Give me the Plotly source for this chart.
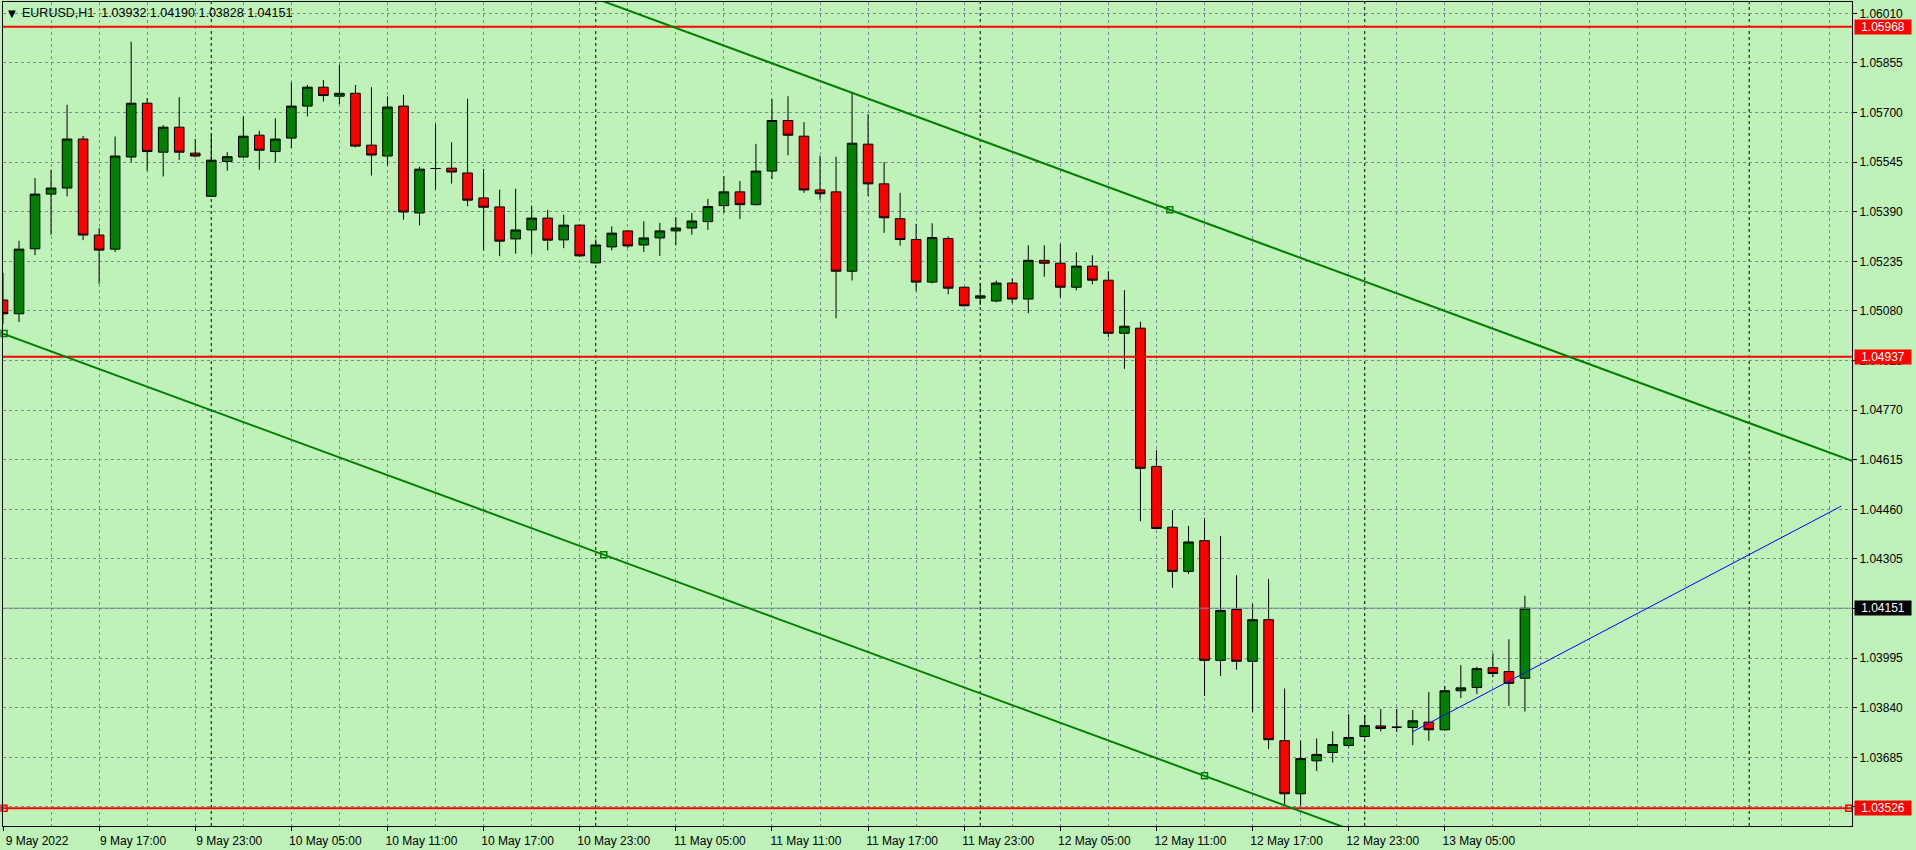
import pandas as pd
import plotly.graph_objects as go

# ---------------- data ----------------
symbol = "EURUSD,H1"
bar_start = "2022-05-09 11:00"

opens = [1.05114, 1.05071, 1.05274, 1.05445, 1.05464, 1.05617, 1.05317, 1.05273, 1.05561, 1.05729,
         1.05576, 1.05654, 1.05573, 1.05438, 1.05547, 1.05561, 1.05629, 1.05578, 1.05620, 1.05720,
         1.05779, 1.05751, 1.05760, 1.05598, 1.05564, 1.05720, 1.05386, 1.05525, 1.05526, 1.05511,
         1.05433, 1.05405, 1.05305, 1.05333, 1.05370, 1.05302, 1.05348, 1.05230, 1.05280, 1.05330,
         1.05286, 1.05308, 1.05330, 1.05339, 1.05359, 1.05409, 1.05452, 1.05412, 1.05517, 1.05675,
         1.05626, 1.05458, 1.05452, 1.05204, 1.05601, 1.05477, 1.05368, 1.05303, 1.05170, 1.05306,
         1.05154, 1.05120, 1.05111, 1.05167, 1.05117, 1.05238, 1.05229, 1.05154, 1.05220, 1.05176,
         1.05010, 1.05026, 1.04594, 1.04404, 1.04266, 1.04362, 1.03988, 1.04147, 1.03985, 1.04115,
         1.03737, 1.03571, 1.03674, 1.03700, 1.03722, 1.03750, 1.03783, 1.03779, 1.03778, 1.03795,
         1.03771, 1.03893, 1.03903, 1.03965, 1.03953, 1.03932]
highs = [1.05199, 1.05299, 1.05495, 1.05521, 1.05724, 1.05627, 1.05339, 1.05625, 1.05921, 1.05745,
         1.05661, 1.05748, 1.05617, 1.05632, 1.05576, 1.05688, 1.05643, 1.05682, 1.05794, 1.05786,
         1.05802, 1.05849, 1.05786, 1.05779, 1.05750, 1.05755, 1.05531, 1.05665, 1.05607, 1.05743,
         1.05524, 1.05459, 1.05462, 1.05409, 1.05396, 1.05381, 1.05350, 1.05303, 1.05344, 1.05332,
         1.05360, 1.05355, 1.05373, 1.05386, 1.05430, 1.05501, 1.05486, 1.05602, 1.05742, 1.05751,
         1.05670, 1.05565, 1.05562, 1.05762, 1.05695, 1.05545, 1.05449, 1.05352, 1.05354, 1.05313,
         1.05155, 1.05167, 1.05175, 1.05181, 1.05285, 1.05285, 1.05289, 1.05263, 1.05254, 1.05204,
         1.05145, 1.05046, 1.04645, 1.04457, 1.04408, 1.04433, 1.04377, 1.04254, 1.04164, 1.04242,
         1.03900, 1.03737, 1.03744, 1.03766, 1.03820, 1.03818, 1.03836, 1.03836, 1.03833, 1.03889,
         1.03908, 1.03973, 1.03968, 1.04010, 1.04054, 1.04190]
lows = [1.05040, 1.05045, 1.05254, 1.05318, 1.05438, 1.05301, 1.05165, 1.05264, 1.05545, 1.05518,
        1.05500, 1.05552, 1.05560, 1.05436, 1.05518, 1.05559, 1.05521, 1.05545, 1.05589, 1.05688,
        1.05734, 1.05726, 1.05591, 1.05503, 1.05535, 1.05365, 1.05347, 1.05459, 1.05478, 1.05407,
        1.05269, 1.05251, 1.05259, 1.05258, 1.05269, 1.05276, 1.05250, 1.05228, 1.05269, 1.05277,
        1.05264, 1.05252, 1.05285, 1.05318, 1.05333, 1.05387, 1.05367, 1.05410, 1.05492, 1.05566,
        1.05449, 1.05427, 1.05057, 1.05175, 1.05439, 1.05324, 1.05284, 1.05142, 1.05166, 1.05132,
        1.05094, 1.05098, 1.05107, 1.05104, 1.05073, 1.05187, 1.05122, 1.05144, 1.05163, 1.04998,
        1.04899, 1.04423, 1.04398, 1.04215, 1.04258, 1.03877, 1.03939, 1.03959, 1.03826, 1.03711,
        1.03534, 1.03534, 1.03642, 1.03669, 1.03716, 1.03744, 1.03766, 1.03764, 1.03723, 1.03736,
        1.03768, 1.03870, 1.03883, 1.03936, 1.03846, 1.03828]
closes = [1.05071, 1.05273, 1.05445, 1.05464, 1.05617, 1.05317, 1.05270, 1.05564, 1.05729, 1.05578,
          1.05654, 1.05576, 1.05564, 1.05551, 1.05562, 1.05626, 1.05582, 1.05617, 1.05720, 1.05779,
          1.05753, 1.05760, 1.05595, 1.05567, 1.05717, 1.05389, 1.05523, 1.05525, 1.05514, 1.05426,
          1.05404, 1.05298, 1.05333, 1.05370, 1.05301, 1.05348, 1.05252, 1.05286, 1.05323, 1.05283,
          1.05308, 1.05330, 1.05339, 1.05361, 1.05406, 1.05452, 1.05412, 1.05517, 1.05675, 1.05629,
          1.05458, 1.05446, 1.05204, 1.05604, 1.05477, 1.05371, 1.05303, 1.05170, 1.05309, 1.05151,
          1.05096, 1.05127, 1.05167, 1.05117, 1.05238, 1.05229, 1.05154, 1.05220, 1.05176, 1.05010,
          1.05032, 1.04588, 1.04400, 1.04266, 1.04358, 1.03988, 1.04144, 1.03985, 1.04115, 1.03740,
          1.03571, 1.03681, 1.03694, 1.03725, 1.03747, 1.03784, 1.03775, 1.03779, 1.03799, 1.03771,
          1.03893, 1.03902, 1.03962, 1.03947, 1.03916, 1.04151]

price_ticks = [1.06010, 1.05855, 1.05700, 1.05545, 1.05390, 1.05235, 1.05080, 1.04925, 1.04770,
               1.04615, 1.04460, 1.04305, 1.04150, 1.03995, 1.03840, 1.03685, 1.03530]

time_tick_vals = ["2022-05-09 11:00", "2022-05-09 17:00", "2022-05-09 23:00", "2022-05-10 05:00",
                  "2022-05-10 11:00", "2022-05-10 17:00", "2022-05-10 23:00", "2022-05-11 05:00",
                  "2022-05-11 11:00", "2022-05-11 17:00", "2022-05-11 23:00", "2022-05-12 05:00",
                  "2022-05-12 11:00", "2022-05-12 17:00", "2022-05-12 23:00", "2022-05-13 05:00"]
time_tick_text = ["9 May 2022", "9 May 17:00", "9 May 23:00", "10 May 05:00",
                  "10 May 11:00", "10 May 17:00", "10 May 23:00", "11 May 05:00",
                  "11 May 11:00", "11 May 17:00", "11 May 23:00", "12 May 05:00",
                  "12 May 11:00", "12 May 17:00", "12 May 23:00", "13 May 05:00"]

day_separators = ["2022-05-10 00:00", "2022-05-11 00:00", "2022-05-12 00:00",
                  "2022-05-13 00:00", "2022-05-14 00:00"]

red_levels = [1.05968, 1.04937, 1.03526]
bid_price = 1.04151

upper_channel_t = ["2022-05-12 11:50", "2022-05-14 06:00"]
upper_channel_p = [1.05396, 1.04619]
lower_channel_t = ["2022-05-09 11:00", "2022-05-12 14:00"]
lower_channel_p = [1.05009, 1.03627]
blue_line_t = ["2022-05-13 03:00", "2022-05-14 05:45"]
blue_line_p = [1.03765, 1.04470]

x_range = ["2022-05-09 11:00", "2022-05-14 06:25"]
y_range = [1.034703, 1.060453]

# ---------------- styles ----------------
BG = "rgb(190,242,185)"
GRID = "rgb(119,136,153)"
BULL = "rgb(0,128,0)"
BEAR = "rgb(255,0,0)"
CHAN = "rgb(0,128,0)"
FONT = "Liberation Sans, Arial, DejaVu Sans, sans-serif"

times = pd.date_range(bar_start, periods=len(opens), freq="h")


def ray(ts, ps, t_lo, t_hi):
    t0, t1 = pd.Timestamp(ts[0]), pd.Timestamp(ts[1])
    slope = (ps[1] - ps[0]) / (t1 - t0).total_seconds()
    out_t = [pd.Timestamp(t_lo), pd.Timestamp(t_hi)]
    out_p = [ps[0] + slope * (t - t0).total_seconds() for t in out_t]
    return out_t, out_p


fig = go.Figure()

# bid line (behind candles)
fig.add_trace(go.Scatter(x=x_range, y=[bid_price, bid_price], mode="lines",
                         line=dict(color=GRID, width=1), hoverinfo="skip", showlegend=False))

fig.add_trace(go.Candlestick(
    x=times, open=opens, high=highs, low=lows, close=closes,
    increasing=dict(fillcolor=BULL, line=dict(color="black", width=1)),
    decreasing=dict(fillcolor=BEAR, line=dict(color="black", width=1)),
    whiskerwidth=0, hoverinfo="skip", showlegend=False))

# horizontal red levels
for lv in red_levels:
    fig.add_trace(go.Scatter(x=x_range, y=[lv, lv], mode="lines",
                             line=dict(color=BEAR, width=2), hoverinfo="skip", showlegend=False))

# channel lines
ut, up = ray(upper_channel_t, upper_channel_p, x_range[0], x_range[1])
fig.add_trace(go.Scatter(x=ut, y=up, mode="lines", line=dict(color=CHAN, width=2),
                         hoverinfo="skip", showlegend=False))
lt, lp = ray(lower_channel_t, lower_channel_p, lower_channel_t[0], x_range[1])
fig.add_trace(go.Scatter(x=lt, y=lp, mode="lines", line=dict(color=CHAN, width=2),
                         hoverinfo="skip", showlegend=False))
fig.add_trace(go.Scatter(x=blue_line_t, y=blue_line_p, mode="lines",
                         line=dict(color="rgb(0,0,255)", width=1), hoverinfo="skip", showlegend=False))

# selection handles of the drawn objects
l0, l1 = pd.Timestamp(lower_channel_t[0]), pd.Timestamp(lower_channel_t[1])
handle_t = [pd.Timestamp(upper_channel_t[0]), l0 + pd.Timedelta(minutes=4), l0 + (l1 - l0) / 2, l1]
handle_p = [upper_channel_p[0], lower_channel_p[0],
            (lower_channel_p[0] + lower_channel_p[1]) / 2, lower_channel_p[1]]
fig.add_trace(go.Scatter(x=handle_t, y=handle_p, mode="markers", cliponaxis=False,
                         marker=dict(symbol="square-open", size=6, color=CHAN, line=dict(width=1.5)),
                         hoverinfo="skip", showlegend=False))
fig.add_trace(go.Scatter(x=[pd.Timestamp(x_range[0]) + pd.Timedelta(minutes=4),
                            pd.Timestamp(x_range[1]) - pd.Timedelta(minutes=12)],
                         y=[red_levels[2], red_levels[2]], mode="markers", cliponaxis=False,
                         marker=dict(symbol="square-open", size=6, color=BEAR, line=dict(width=1.5)),
                         hoverinfo="skip", showlegend=False))

# day separators
shapes = [dict(type="line", xref="x", yref="paper", x0=d, x1=d, y0=0, y1=1, layer="below",
               line=dict(color="black", width=1, dash="3px,3px")) for d in day_separators]

minor_grid = [t.strftime("%Y-%m-%d %H:%M") for t in
              pd.date_range(x_range[0], x_range[1], freq="3h")]

annotations = []
for lv in red_levels:
    annotations.append(dict(xref="paper", x=1, xanchor="left", xshift=2, yref="y", y=lv,
                            yanchor="middle", text=f"{lv:.5f}", showarrow=False,
                            bgcolor=BEAR, font=dict(color="white", size=12, family=FONT),
                            width=54, height=12, borderpad=1, align="center"))
annotations.append(dict(xref="paper", x=1, xanchor="left", xshift=2, yref="y", y=bid_price,
                        yanchor="middle", text=f"{bid_price:.5f}", showarrow=False,
                        bgcolor="black", font=dict(color="white", size=12, family=FONT),
                        width=54, height=12, borderpad=1, align="center"))
title_text = (symbol + "\u00a0\u00a0" + " ".join(f"{v:.5f}" for v in
              [opens[-1], highs[-1], lows[-1], closes[-1]]))
annotations.append(dict(xref="paper", yref="paper", x=0, y=1, xanchor="left", yanchor="middle",
                        xshift=3, yshift=-11, text="\u25bc", showarrow=False,
                        font=dict(color="black", size=10, family="DejaVu Sans")))
annotations.append(dict(xref="paper", yref="paper", x=0, y=1, xanchor="left", yanchor="middle",
                        xshift=17, yshift=-11, text=title_text, showarrow=False,
                        font=dict(color="black", size=12.5, family=FONT)))

fig.update_layout(
    width=1916, height=850,
    margin=dict(l=3, r=64, t=2, b=24),
    paper_bgcolor=BG, plot_bgcolor=BG,
    font=dict(family=FONT, size=12, color="black"),
    boxgap=0.4, boxgroupgap=0,
    showlegend=False,
    shapes=shapes,
    annotations=annotations,
    xaxis=dict(
        type="date", range=x_range, rangeslider=dict(visible=False),
        showline=True, mirror=True, linecolor="black", linewidth=1,
        tickmode="array", tickvals=time_tick_vals, ticktext=time_tick_text,
        ticks="outside", ticklen=4, tickcolor="black", ticklabelshift=34,
        tickfont=dict(size=12, color="black", family=FONT),
        showgrid=False, zeroline=False,
        minor=dict(tickmode="array", tickvals=minor_grid, showgrid=True, gridcolor=GRID,
                   griddash="3px,3px", gridwidth=1, ticks=""),
    ),
    yaxis=dict(
        side="right", range=y_range,
        showline=True, mirror=True, linecolor="black", linewidth=1,
        tickmode="array", tickvals=price_ticks, tickformat=".5f",
        ticks="outside", ticklen=4, tickcolor="black",
        tickfont=dict(size=12, color="black", family=FONT),
        showgrid=True, gridcolor=GRID, griddash="3px,3px", gridwidth=1, zeroline=False,
    ),
)

fig.write_html("out.html", config={"displayModeBar": False},
               post_script="document.body.style.margin='0';document.body.style.overflow='hidden';")
